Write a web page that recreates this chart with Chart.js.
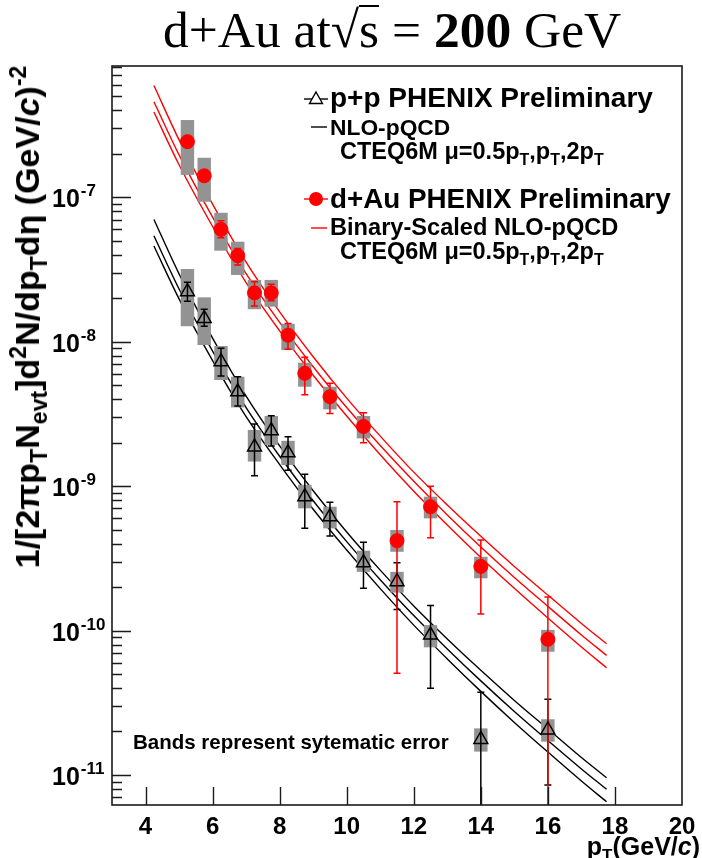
<!DOCTYPE html>
<html>
<head>
<meta charset="utf-8">
<script src="https://cdn.jsdelivr.net/npm/chart.js@4/dist/chart.umd.min.js"></script>
<style>
  body { margin: 0; background: #fff; }
  #wrap { position: relative; width: 702px; height: 858px; overflow: hidden; background: #fff; }
  #c { position: absolute; left: 0; top: 0; }
  .t { position: absolute; font-family: "Liberation Sans", Arial, sans-serif; font-weight: bold; color: #000; white-space: nowrap; line-height: 1; }
  .t sub, .t sup { font-size: 68%; line-height: 0; }
  .t sub { vertical-align: -0.35em; }
  .t sup { vertical-align: 0.55em; }
  #title { position: absolute; left: 163px; top: 4px; font-family: "Liberation Serif", "Times New Roman", serif; font-size: 51.5px; line-height: 1; white-space: nowrap; color: #000; }
  #title .rt { display: inline-block; line-height: 0.9; border-top: 2px solid #000; }
  .sym { position: absolute; }
</style>
</head>
<body>
<div id="wrap">
  <canvas id="c" width="702" height="858"></canvas>

  <div id="title">d+Au at√<span class="rt">s</span> = <b>200</b> GeV</div>

  <!-- legend -->
  <svg class="sym" style="left:300px;top:88px" width="32" height="22">
    <line x1="4" y1="11" x2="28" y2="11" stroke="#000" stroke-width="1.4"/>
    <polygon points="16,4 22.5,15.5 9.5,15.5" fill="#fff" stroke="#000" stroke-width="1.4"/>
  </svg>
  <div class="t" style="left:330px;top:84px;font-size:28px">p+p PHENIX Preliminary</div>

  <svg class="sym" style="left:300px;top:116px" width="32" height="22">
    <line x1="11" y1="11" x2="27" y2="11" stroke="#000" stroke-width="1.4"/>
  </svg>
  <div class="t" style="left:330px;top:116px;font-size:22.8px">NLO-pQCD</div>
  <div class="t" style="left:340px;top:140px;font-size:23.5px">CTEQ6M μ=0.5p<sub>T</sub>,p<sub>T</sub>,2p<sub>T</sub></div>

  <svg class="sym" style="left:300px;top:188px" width="32" height="22">
    <line x1="4" y1="11" x2="28" y2="11" stroke="#f00" stroke-width="1.4"/>
    <circle cx="16" cy="11" r="7" fill="#f00"/>
  </svg>
  <div class="t" style="left:330px;top:185px;font-size:27.8px">d+Au PHENIX Preliminary</div>

  <svg class="sym" style="left:300px;top:217px" width="32" height="22">
    <line x1="11" y1="11" x2="27" y2="11" stroke="#f00" stroke-width="1.4"/>
  </svg>
  <div class="t" style="left:330px;top:216px;font-size:23.6px">Binary-Scaled NLO-pQCD</div>
  <div class="t" style="left:340px;top:240px;font-size:23.5px">CTEQ6M μ=0.5p<sub>T</sub>,p<sub>T</sub>,2p<sub>T</sub></div>

  <div class="t" style="left:133px;top:732px;font-size:20.5px">Bands represent sytematic error</div>

  <div class="t" style="right:2px;top:834px;font-size:25px">p<sub>T</sub>(GeV/<i>c</i>)</div>

  <div class="t" style="left:27px;top:317px;font-size:34px;transform:translate(-50%,-50%) rotate(-90deg)">1/[2πp<sub>T</sub>N<sub>evt</sub>]d<sup>2</sup>N/dp<sub>T</sub>dη (GeV/<i>c</i>)<sup>-2</sup></div>
</div>

<script>
// Neutral pion yields vs transverse momentum (GeV/c)
const ptBins = [5.25, 5.75, 6.25, 6.75, 7.25, 7.75, 8.25, 8.75, 9.5, 10.5, 11.5, 12.5, 14, 16];

// p+p: central values, statistical limits, systematic band limits (0 = reaches zero)
const ppYield    = [2.22e-8, 1.45e-8, 7.27e-9, 4.50e-9, 1.87e-9, 2.42e-9, 1.70e-9, 8.45e-10, 6.14e-10, 2.95e-10, 2.18e-10, 9.31e-11, 1.76e-11, 2.05e-11];
const ppStatLow  = [1.91e-8, 1.28e-8, 5.79e-9, 3.59e-9, 1.18e-9, 1.90e-9, 1.29e-9, 5.10e-10, 4.51e-10, 1.96e-10, 1.40e-10, 3.98e-11, 0, 8.51e-12];
const ppStatHigh = [2.58e-8, 1.68e-8, 9.00e-9, 5.72e-9, 2.69e-9, 3.07e-9, 2.20e-9, 1.21e-9, 7.72e-10, 4.08e-10, 2.95e-10, 1.49e-10, 3.73e-11, 3.34e-11];
const ppSysLow   = [1.28e-8, 9.49e-9, 5.43e-9, 3.51e-9, 1.48e-9, 1.93e-9, 1.40e-9, 7.02e-10, 5.10e-10, 2.55e-10, 1.83e-10, 7.65e-11, 1.45e-11, 1.70e-11];
const ppSysHigh  = [3.19e-8, 2.03e-8, 9.34e-9, 5.72e-9, 2.45e-9, 3.06e-9, 2.06e-9, 1.02e-9, 7.20e-10, 3.57e-10, 2.55e-10, 1.09e-10, 2.10e-11, 2.43e-11];

// d+Au
const dauYield    = [2.43e-7, 1.41e-7, 6.00e-8, 3.94e-8, 2.18e-8, 2.18e-8, 1.11e-8, 6.04e-9, 4.16e-9, 2.59e-9, 4.19e-10, 7.20e-10, 2.78e-10, 8.69e-11];
const dauStatLow  = [2.30e-7, 1.33e-7, 5.25e-8, 3.40e-8, 1.77e-8, 1.92e-8, 8.86e-9, 4.30e-9, 3.19e-9, 2.00e-9, 5.05e-11, 4.39e-10, 1.30e-10, 0];
const dauStatHigh = [2.56e-7, 1.49e-7, 6.89e-8, 4.43e-8, 2.60e-8, 2.50e-8, 1.34e-8, 7.80e-9, 5.15e-9, 3.22e-9, 7.80e-10, 1.00e-9, 4.23e-10, 1.71e-10];
const dauSysLow   = [1.43e-7, 9.32e-8, 4.27e-8, 2.90e-8, 1.68e-8, 1.75e-8, 8.76e-9, 4.88e-9, 3.40e-9, 2.14e-9, 3.51e-10, 5.98e-10, 2.30e-10, 7.13e-11];
const dauSysHigh  = [3.43e-7, 1.88e-7, 7.82e-8, 4.93e-8, 2.68e-8, 2.68e-8, 1.33e-8, 7.16e-9, 4.88e-9, 3.06e-9, 4.97e-10, 8.45e-10, 3.24e-10, 1.01e-10];

// NLO pQCD (CTEQ6M) curves for three scale choices
const theoryPt = [4.25, 5, 6, 7, 8, 9, 10, 11, 12, 13, 14, 15, 16, 17, 17.75];
const ppNloHalf = [7.03e-8, 2.95e-8, 1.06e-8, 4.20e-9, 1.90e-9, 9.29e-10, 4.81e-10, 2.62e-10, 1.48e-10, 8.75e-11, 5.30e-11, 3.28e-11, 2.08e-11, 1.32e-11, 9.56e-12];
const ppNloOne  = [5.42e-8, 2.32e-8, 8.62e-9, 3.50e-9, 1.61e-9, 7.92e-10, 4.13e-10, 2.25e-10, 1.27e-10, 7.46e-11, 4.48e-11, 2.75e-11, 1.73e-11, 1.10e-11, 7.95e-12];
const ppNloTwo  = [4.60e-8, 1.98e-8, 7.41e-9, 3.03e-9, 1.41e-9, 6.92e-10, 3.61e-10, 1.95e-10, 1.09e-10, 6.36e-11, 3.79e-11, 2.31e-11, 1.44e-11, 9.08e-12, 6.52e-12];
const dauNloHalf = [5.95e-7, 2.50e-7, 8.98e-8, 3.56e-8, 1.61e-8, 7.87e-9, 4.07e-9, 2.22e-9, 1.25e-9, 7.41e-10, 4.49e-10, 2.78e-10, 1.76e-10, 1.12e-10, 8.10e-11];
const dauNloOne  = [4.59e-7, 1.97e-7, 7.30e-8, 2.96e-8, 1.36e-8, 6.71e-9, 3.50e-9, 1.91e-9, 1.08e-9, 6.32e-10, 3.79e-10, 2.33e-10, 1.47e-10, 9.32e-11, 6.73e-11];
const dauNloTwo  = [3.90e-7, 1.68e-7, 6.28e-8, 2.57e-8, 1.19e-8, 5.86e-9, 3.06e-9, 1.65e-9, 9.23e-10, 5.39e-10, 3.21e-10, 1.96e-10, 1.22e-10, 7.69e-11, 5.52e-11];

// axes
const xMin = 3, xMax = 20;
const yMin = 6.19e-12, yMax = 8.12e-7;
const xTickValues = [4, 6, 8, 10, 12, 14, 16, 18, 20];
const xTickLabels = ['4', '6', '8', '10', '12', '14', '16', '18', '20'];
const yTickValues = [1e-11, 1e-10, 1e-9, 1e-8, 1e-7];
const yTickExponents = ['-11', '-10', '-9', '-8', '-7'];

const RED = '#ff0000';
const BAND = '#939393';

const toPoints = (xs, ys) => xs.map((x, i) => ({ x, y: ys[i] }));

const curve = (ys, color) => ({
  type: 'line',
  data: toPoints(theoryPt, ys),
  showLine: true,
  borderColor: color,
  borderWidth: 1.4,
  pointRadius: 0,
  fill: false,
  cubicInterpolationMode: 'monotone',
  order: 1
});

function drawBands(ctx, xs, ys, lo, hi, halfWidth) {
  ctx.fillStyle = BAND;
  for (let i = 0; i < ptBins.length; i++) {
    const x0 = xs.getPixelForValue(ptBins[i] - halfWidth);
    const x1 = xs.getPixelForValue(ptBins[i] + halfWidth);
    const y0 = ys.getPixelForValue(hi[i]);
    const y1 = ys.getPixelForValue(lo[i]);
    ctx.fillRect(x0, y0, x1 - x0, y1 - y0);
  }
}

function drawErrors(ctx, xs, ys, area, lo, hi, color) {
  ctx.strokeStyle = color;
  ctx.lineWidth = 1.5;
  const cap = 3.5;
  for (let i = 0; i < ptBins.length; i++) {
    const px = xs.getPixelForValue(ptBins[i]);
    const yTop = ys.getPixelForValue(hi[i]);
    const yBot = lo[i] > 0 ? ys.getPixelForValue(lo[i]) : area.bottom + 5;
    ctx.beginPath();
    ctx.moveTo(px, yTop); ctx.lineTo(px, yBot);
    ctx.moveTo(px - cap, yTop); ctx.lineTo(px + cap, yTop);
    if (lo[i] > 0) { ctx.moveTo(px - cap, yBot); ctx.lineTo(px + cap, yBot); }
    ctx.stroke();
  }
}

const phenixFrame = {
  id: 'phenixFrame',
  beforeDatasetDraw(chart, args) {
    if (args.index !== 1) return;
    const { ctx, chartArea: a, scales: { x, y } } = chart;
    ctx.save();
    ctx.beginPath();
    ctx.rect(a.left, a.top, a.right - a.left, a.bottom - a.top);
    ctx.clip();
    drawBands(ctx, x, y, ppSysLow, ppSysHigh, 0.2);
    drawBands(ctx, x, y, dauSysLow, dauSysHigh, 0.2);
    drawErrors(ctx, x, y, a, ppStatLow, ppStatHigh, '#000');
    drawErrors(ctx, x, y, a, dauStatLow, dauStatHigh, RED);
    ctx.restore();
  },
  afterDraw(chart) {
    const { ctx, chartArea: a, scales: { x, y } } = chart;
    ctx.save();
    ctx.strokeStyle = '#1a1a1a';
    ctx.lineWidth = 1.6;
    ctx.strokeRect(a.left, a.top, a.right - a.left, a.bottom - a.top);

    // log ticks on the left axis, pointing inwards
    ctx.lineWidth = 1.4;
    ctx.beginPath();
    for (let e = -12; e <= -6; e++) {
      for (let m = 1; m <= 9; m++) {
        const v = m * Math.pow(10, e);
        if (v < yMin || v > yMax) continue;
        const py = Math.round(y.getPixelForValue(v)) + 0.5;
        ctx.moveTo(a.left, py);
        ctx.lineTo(a.left + (m === 1 ? 19 : 10), py);
      }
    }
    // bottom axis ticks, pointing upwards
    xTickValues.forEach(v => {
      if (v >= xMax) return;
      const px = Math.round(x.getPixelForValue(v)) + 0.5;
      ctx.moveTo(px, a.bottom);
      ctx.lineTo(px, a.bottom - 18);
    });
    ctx.stroke();

    // tick labels
    ctx.fillStyle = '#000';
    ctx.textAlign = 'center';
    ctx.textBaseline = 'alphabetic';
    ctx.font = 'bold 24px "Liberation Sans", Arial, sans-serif';
    xTickValues.forEach((v, i) => {
      ctx.fillText(xTickLabels[i], x.getPixelForValue(v), a.bottom + 29);
    });
    ctx.textAlign = 'left';
    yTickValues.forEach((v, i) => {
      const py = y.getPixelForValue(v);
      ctx.font = 'bold 25px "Liberation Sans", Arial, sans-serif';
      ctx.fillText('10', 52, py + 10);
      const w = ctx.measureText('10').width;
      ctx.font = 'bold 17px "Liberation Sans", Arial, sans-serif';
      ctx.fillText(yTickExponents[i], 52 + w + 1, py - 1);
    });
    ctx.restore();
  }
};

new Chart(document.getElementById('c'), {
  type: 'scatter',
  data: {
    datasets: [
      {
        label: 'p+p PHENIX Preliminary',
        data: toPoints(ptBins, ppYield),
        pointStyle: 'triangle',
        pointRadius: 8,
        borderColor: '#000',
        backgroundColor: 'rgba(0,0,0,0)',
        borderWidth: 1.5,
        order: 0
      },
      {
        label: 'd+Au PHENIX Preliminary',
        data: toPoints(ptBins, dauYield),
        pointStyle: 'circle',
        pointRadius: 7,
        borderColor: RED,
        backgroundColor: RED,
        borderWidth: 1,
        order: 0
      },
      curve(ppNloHalf, '#000'),
      curve(ppNloOne, '#000'),
      curve(ppNloTwo, '#000'),
      curve(dauNloHalf, RED),
      curve(dauNloOne, RED),
      curve(dauNloTwo, RED)
    ]
  },
  options: {
    responsive: false,
    animation: false,
    devicePixelRatio: 1,
    events: [],
    layout: { padding: { left: 112, right: 20, top: 66, bottom: 53 } },
    scales: {
      x: { type: 'linear', min: xMin, max: xMax, display: false },
      y: { type: 'logarithmic', min: yMin, max: yMax, display: false }
    },
    plugins: {
      legend: { display: false },
      tooltip: { enabled: false }
    }
  },
  plugins: [phenixFrame]
});
</script>
</body>
</html>
